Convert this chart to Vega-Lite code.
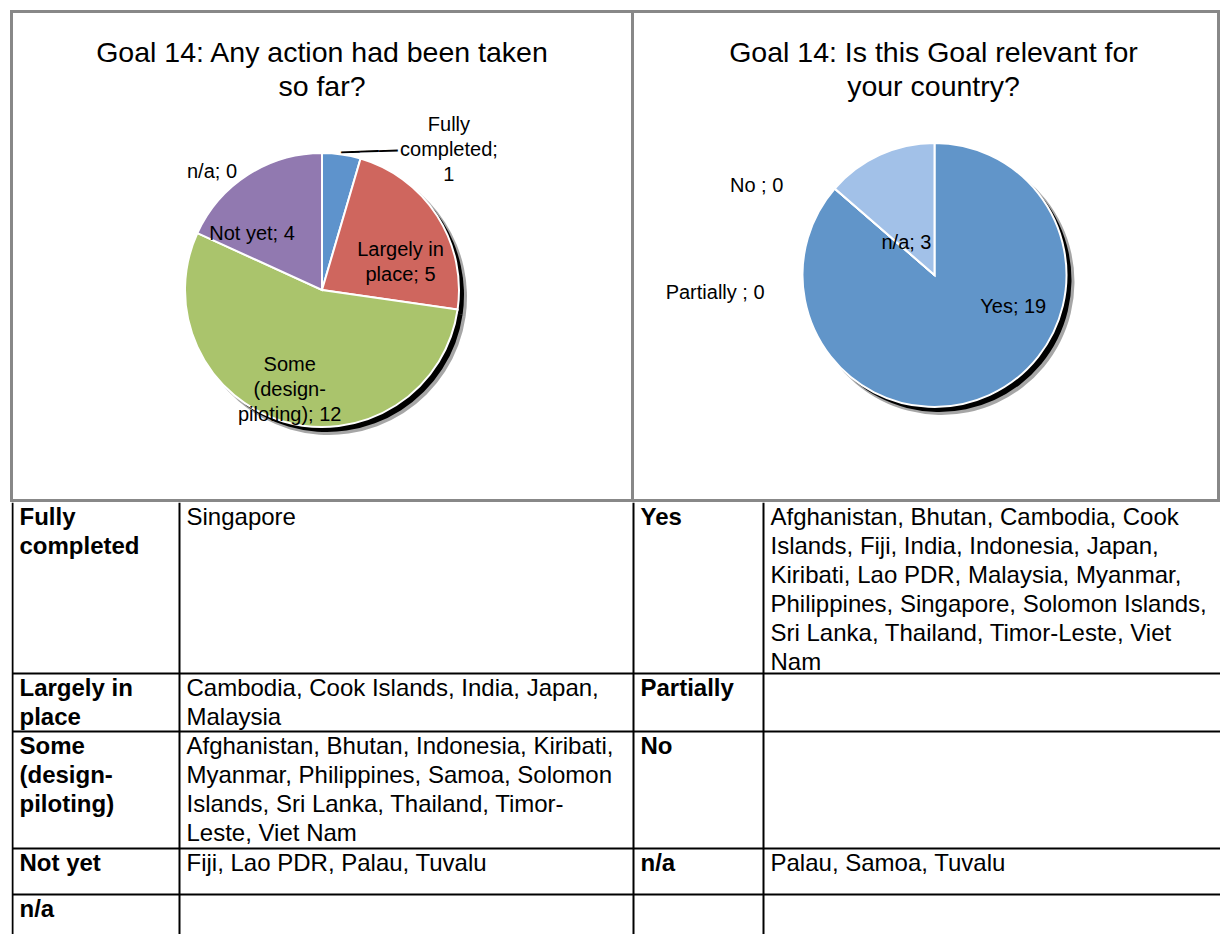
{
  "$schema": "https://vega.github.io/schema/vega-lite/v6.json",
  "padding": {"left": 9.5, "top": 9.5, "right": 0, "bottom": 0},
  "background": "white",
  "spacing": 0,
  "config": {"view": {"stroke": null}, "font": "Liberation Sans", "text": {"font": "Liberation Sans"}},
  "datasets": {
    "actions": [
      {"status": "Fully completed", "count": 1, "rank": 1, "label": "Fully\ncompleted;\n1"},
      {"status": "Largely in place", "count": 5, "rank": 2, "label": "Largely in\nplace; 5"},
      {"status": "Some (design-piloting)", "count": 12, "rank": 3, "label": "Some\n(design-\npiloting); 12"},
      {"status": "Not yet", "count": 4, "rank": 4, "label": "Not yet; 4"},
      {"status": "n/a", "count": 0, "rank": 5, "label": "n/a; 0"}
    ],
    "relevance": [
      {"answer": "Yes", "n": 19, "rank": 1, "label": "Yes; 19"},
      {"answer": "Partially", "n": 0, "rank": 2, "label": "Partially ; 0"},
      {"answer": "No", "n": 0, "rank": 3, "label": "No ; 0"},
      {"answer": "n/a", "n": 3, "rank": 4, "label": "n/a; 3"}
    ],
    "vlines": [{"col": 0}, {"col": 1}, {"col": 2}, {"col": 3}],
    "hlines": [{"row": 1}, {"row": 2}, {"row": 3}, {"row": 4}],
    "cells": [
      {"row": 0, "col": 0, "text": "Fully\ncompleted"},
      {"row": 0, "col": 1, "text": "Singapore"},
      {"row": 0, "col": 2, "text": "Yes"},
      {"row": 0, "col": 3, "text": "Afghanistan, Bhutan, Cambodia, Cook\nIslands, Fiji, India, Indonesia, Japan,\nKiribati, Lao PDR, Malaysia, Myanmar,\nPhilippines, Singapore, Solomon Islands,\nSri Lanka, Thailand, Timor-Leste, Viet\nNam"},
      {"row": 1, "col": 0, "text": "Largely in\nplace"},
      {"row": 1, "col": 1, "text": "Cambodia, Cook Islands, India, Japan,\nMalaysia"},
      {"row": 1, "col": 2, "text": "Partially"},
      {"row": 1, "col": 3, "text": ""},
      {"row": 2, "col": 0, "text": "Some\n(design-\npiloting)"},
      {"row": 2, "col": 1, "text": "Afghanistan, Bhutan, Indonesia, Kiribati,\nMyanmar, Philippines, Samoa, Solomon\nIslands, Sri Lanka, Thailand, Timor-\nLeste, Viet Nam"},
      {"row": 2, "col": 2, "text": "No"},
      {"row": 2, "col": 3, "text": ""},
      {"row": 3, "col": 0, "text": "Not yet"},
      {"row": 3, "col": 1, "text": "Fiji, Lao PDR, Palau, Tuvalu"},
      {"row": 3, "col": 2, "text": "n/a"},
      {"row": 3, "col": 3, "text": "Palau, Samoa, Tuvalu"},
      {"row": 4, "col": 0, "text": "n/a"},
      {"row": 4, "col": 1, "text": ""},
      {"row": 4, "col": 2, "text": ""},
      {"row": 4, "col": 3, "text": ""}
    ]
  },
  "vconcat": [
    {
      "spacing": 0,
      "bounds": "flush",
      "resolve": {"scale": {"color": "independent", "theta": "independent"}},
      "hconcat": [
        {
          "width": 621,
          "height": 489,
          "view": {"stroke": "#888888", "strokeWidth": 3},
          "title": {"text": ["Goal 14: Any action had been taken", "so far?"], "fontSize": 28.5, "fontWeight": "normal", "font": "Liberation Sans", "color": "#000000", "lineHeight": 34, "baseline": "top", "offset": -90, "anchor": "middle", "frame": "group"},
          "data": {"name": "actions"},
          "encoding": {
            "theta": {"field": "count", "type": "quantitative", "stack": true},
            "order": {"field": "rank", "type": "quantitative"}
          },
          "layer": [
            {"mark": {"type": "arc", "outerRadius": 138, "color": "black", "opacity": 0.35, "xOffset": 7, "yOffset": 41}, "encoding": {"detail": {"field": "status", "type": "nominal"}}},
            {"mark": {"type": "arc", "outerRadius": 137, "color": "black", "opacity": 1, "xOffset": 5, "yOffset": 39}, "encoding": {"detail": {"field": "status", "type": "nominal"}}},
            {"mark": {"type": "arc", "outerRadius": 137, "stroke": "white", "strokeWidth": 2, "yOffset": 34},
             "encoding": {"color": {"field": "status", "type": "nominal", "legend": null,
               "scale": {"domain": ["Fully completed", "Largely in place", "Some (design-piloting)", "Not yet", "n/a"], "range": ["#5E93CC", "#CF665E", "#AAC46C", "#9179B0", "#4BACC6"]}}}},
            {"mark": {"type": "text", "radius": 140, "yOffset": 34, "dx": -1, "dy": 0, "angle": 358, "fontSize": 19, "fontWeight": "bold", "align": "left", "baseline": "middle", "color": "black", "clip": true},
             "encoding": {"detail": {"field": "status", "type": "nominal"}, "text": {"condition": {"test": "datum.status === 'Fully completed'", "value": "———"}, "value": ""}}},
            {"mark": {"type": "text", "radius": 140, "yOffset": 34, "dx": 107, "dy": -26, "fontSize": 20, "lineHeight": 25, "lineBreak": "\n", "align": "center", "baseline": "middle", "color": "black", "clip": true},
             "encoding": {"detail": {"field": "status", "type": "nominal"}, "text": {"condition": {"test": "datum.status === 'Fully completed'", "field": "label", "type": "nominal"}, "value": ""}}},
            {"mark": {"type": "text", "radius": 85, "yOffset": 34, "dx": 7, "dy": 6, "fontSize": 20, "lineHeight": 25, "lineBreak": "\n", "align": "center", "baseline": "middle", "color": "black", "clip": true},
             "encoding": {"detail": {"field": "status", "type": "nominal"}, "text": {"condition": {"test": "datum.status === 'Largely in place'", "field": "label", "type": "nominal"}, "value": ""}}},
            {"mark": {"type": "text", "radius": 104, "yOffset": 34, "dx": -3, "dy": -25, "fontSize": 20, "lineHeight": 25, "lineBreak": "\n", "align": "center", "baseline": "middle", "color": "black", "clip": true},
             "encoding": {"detail": {"field": "status", "type": "nominal"}, "text": {"condition": {"test": "datum.status === 'Some (design-piloting)'", "field": "label", "type": "nominal"}, "value": ""}}},
            {"mark": {"type": "text", "radius": 85, "yOffset": 34, "dx": -24, "dy": 16, "fontSize": 20, "lineHeight": 25, "lineBreak": "\n", "align": "center", "baseline": "middle", "color": "black", "clip": true},
             "encoding": {"detail": {"field": "status", "type": "nominal"}, "text": {"condition": {"test": "datum.status === 'Not yet'", "field": "label", "type": "nominal"}, "value": ""}}},
            {"mark": {"type": "text", "radius": 118, "yOffset": 34, "dx": -110, "dy": 0, "fontSize": 20, "lineHeight": 25, "lineBreak": "\n", "align": "center", "baseline": "middle", "color": "black", "clip": true},
             "encoding": {"detail": {"field": "status", "type": "nominal"}, "text": {"condition": {"test": "datum.status === 'n/a'", "field": "label", "type": "nominal"}, "value": ""}}}
          ]
        },
        {
          "width": 586,
          "height": 489,
          "view": {"stroke": "#888888", "strokeWidth": 3},
          "title": {"text": ["Goal 14: Is this Goal relevant for", "your country?"], "fontSize": 28.5, "fontWeight": "normal", "font": "Liberation Sans", "color": "#000000", "lineHeight": 34, "baseline": "top", "offset": -90, "dx": 8, "anchor": "middle", "frame": "group"},
          "data": {"name": "relevance"},
          "encoding": {
            "theta": {"field": "n", "type": "quantitative", "stack": true},
            "order": {"field": "rank", "type": "quantitative"}
          },
          "layer": [
            {"mark": {"type": "arc", "outerRadius": 133, "color": "black", "opacity": 0.35, "xOffset": 16, "yOffset": 26}, "encoding": {"detail": {"field": "answer", "type": "nominal"}}},
            {"mark": {"type": "arc", "outerRadius": 132, "color": "black", "opacity": 1, "xOffset": 14, "yOffset": 24}, "encoding": {"detail": {"field": "answer", "type": "nominal"}}},
            {"mark": {"type": "arc", "outerRadius": 132, "stroke": "white", "strokeWidth": 2, "xOffset": 9, "yOffset": 19},
             "encoding": {"fill": {"field": "answer", "type": "nominal", "legend": null,
               "scale": {"domain": ["Yes", "Partially", "No", "n/a"], "range": ["#6195C9", "#C0504D", "#9BBB59", "#A2C1E8"]}}}},
            {"mark": {"type": "text", "radius": 62, "xOffset": 9, "yOffset": 19, "dx": 53, "dy": -24, "fontSize": 20, "align": "center", "baseline": "middle", "color": "black", "clip": true},
             "encoding": {"detail": {"field": "answer", "type": "nominal"}, "text": {"condition": {"test": "datum.answer === 'Yes'", "field": "label", "type": "nominal"}, "value": ""}}},
            {"mark": {"type": "text", "radius": 41, "xOffset": 9, "yOffset": 19, "dx": -11, "dy": 5, "fontSize": 20, "align": "center", "baseline": "middle", "color": "black", "clip": true},
             "encoding": {"detail": {"field": "answer", "type": "nominal"}, "text": {"condition": {"test": "datum.answer === 'n/a'", "field": "label", "type": "nominal"}, "value": ""}}},
            {"mark": {"type": "text", "radius": 193, "xOffset": 9, "yOffset": 19, "dx": -32, "dy": 37, "fontSize": 20, "align": "center", "baseline": "middle", "color": "black", "clip": true},
             "encoding": {"detail": {"field": "answer", "type": "nominal"}, "text": {"condition": {"test": "datum.answer === 'No'", "field": "label", "type": "nominal"}, "value": ""}}},
            {"mark": {"type": "text", "radius": 154, "xOffset": 9, "yOffset": 19, "dx": -103, "dy": 119, "fontSize": 20, "align": "center", "baseline": "middle", "color": "black", "clip": true},
             "encoding": {"detail": {"field": "answer", "type": "nominal"}, "text": {"condition": {"test": "datum.answer === 'Partially'", "field": "label", "type": "nominal"}, "value": ""}}}
          ]
        }
      ]
    },
    {
      "width": 1209,
      "height": 432,
      "layer": [
        {
          "data": {"name": "vlines"},
          "mark": {"type": "rule", "color": "black", "strokeWidth": 2, "clip": true},
          "encoding": {
            "x": {"field": "col", "type": "quantitative", "axis": null, "scale": {"domain": [0, 1, 2, 3, 4], "range": [1, 168, 622, 752, 1209], "zero": false, "nice": false}},
            "y": {"datum": 0, "type": "quantitative", "axis": null, "scale": {"domain": [0, 1, 2, 3, 4, 5], "range": [0, 171, 229, 346, 392, 470], "zero": false, "nice": false}},
            "y2": {"datum": 5}
          }
        },
        {
          "data": {"name": "hlines"},
          "mark": {"type": "rule", "color": "black", "strokeWidth": 2, "clip": true},
          "encoding": {
            "y": {"field": "row", "type": "quantitative", "axis": null},
            "x": {"datum": 0, "type": "quantitative", "axis": null},
            "x2": {"datum": 4}
          }
        },
        {
          "data": {"name": "cells"},
          "transform": [{"filter": "datum.col == 0 || datum.col == 2"}],
          "mark": {"type": "text", "align": "left", "baseline": "top", "dx": 7, "dy": 3, "fontSize": 24, "fontWeight": "bold", "lineHeight": 29, "lineBreak": "\n", "color": "black", "clip": true},
          "encoding": {
            "x": {"field": "col", "type": "quantitative", "axis": null},
            "y": {"field": "row", "type": "quantitative", "axis": null},
            "text": {"field": "text", "type": "nominal"}
          }
        },
        {
          "data": {"name": "cells"},
          "transform": [{"filter": "datum.col == 1 || datum.col == 3"}],
          "mark": {"type": "text", "align": "left", "baseline": "top", "dx": 7, "dy": 3, "fontSize": 24, "lineHeight": 29, "lineBreak": "\n", "color": "black", "clip": true},
          "encoding": {
            "x": {"field": "col", "type": "quantitative", "axis": null},
            "y": {"field": "row", "type": "quantitative", "axis": null},
            "text": {"field": "text", "type": "nominal"}
          }
        }
      ]
    }
  ]
}
